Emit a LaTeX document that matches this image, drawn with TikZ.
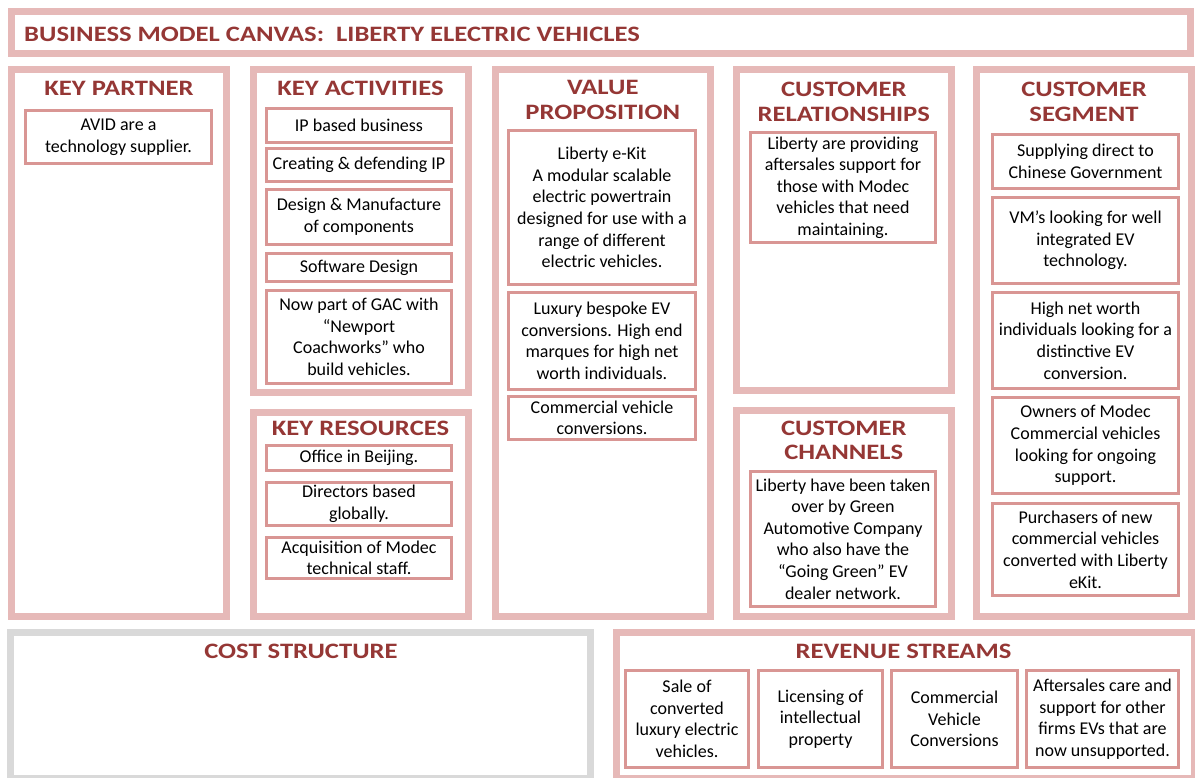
\documentclass[tikz,border=0pt]{standalone}
\usepackage{fontspec}
\setmainfont{Carlito}
\newfontfamily\headface[FakeStretch=1.21]{Carlito}
\usetikzlibrary{positioning}

\definecolor{framepink}{HTML}{E6B9B8}
\definecolor{cardpink}{HTML}{D99694}
\definecolor{headred}{HTML}{953735}
\definecolor{costgray}{HTML}{D9D9D9}

\newcommand{\bodyfont}{\fontsize{18}{21.6}\selectfont}
\newcommand{\headfont}{\headface\fontsize{22}{24.5}\selectfont\bfseries}

\begin{document}
\begin{tikzpicture}[x=1pt, y=-1pt,
  bmcframe/.style={draw=framepink, line width=7pt, inner sep=0pt},
  costframe/.style={bmcframe, draw=costgray},
  infocard/.style={draw=cardpink, line width=3pt, inner sep=0pt, align=center, font=\bodyfont, fill=white},
  blocktitle/.style={text=headred, font=\headfont, align=center, inner sep=0pt},
  kpcard/.style={infocard, minimum width=186},
  kacard/.style={infocard, minimum width=185},
  vpcard/.style={infocard, minimum width=187},
  crcard/.style={infocard, minimum width=185},
  cscard/.style={infocard, minimum width=186},
  rscard/.style={infocard, minimum height=97},
]
\fill[white] (0,0) rectangle (1195,778);
\useasboundingbox (0,0) rectangle (1195,778);

% banner
\node[bmcframe, minimum width=1179, minimum height=42] (banner) at (601,32.5) {};
\node[blocktitle, anchor=west] (bannertext) at (24,34)
  {BUSINESS MODEL CANVAS:\ \ LIBERTY ELECTRIC VEHICLES};

% column frames
\node[bmcframe, minimum width=215, minimum height=546.5] (kp) at (119,343.25) {};
\node[bmcframe, minimum width=215, minimum height=322] (ka) at (361,231) {};
\node[bmcframe, minimum width=215, minimum height=204.5] (kr) at (361,514.25) {};
\node[bmcframe, minimum width=214.5, minimum height=546.5] (vp) at (602.75,343.25) {};
\node[bmcframe, minimum width=214.5, minimum height=320.5] (cr) at (843.75,230.25) {};
\node[bmcframe, minimum width=214.5, minimum height=206.5] (cc) at (843.75,513.25) {};
\node[bmcframe, minimum width=215, minimum height=546.5] (cs) at (1084,343.25) {};
\node[costframe, minimum width=580, minimum height=146.5] (cost) at (300,705.25) {};
\node[bmcframe, minimum width=577.5, minimum height=146.5] (rev) at (905.25,705.25) {};

% block titles
\node[blocktitle] (kptitle) at (119,88) {KEY PARTNER};
\node[blocktitle] (katitle) at (360.5,88) {KEY ACTIVITIES};
\node[blocktitle] (krtitle) at (360.5,428) {KEY RESOURCES};
\node[blocktitle] (vptitle) at (602.75,100) {VALUE\\PROPOSITION};
\node[blocktitle] (crtitle) at (843.75,102) {CUSTOMER\\RELATIONSHIPS};
\node[blocktitle] (cctitle) at (843.75,440.5) {CUSTOMER\\CHANNELS};
\node[blocktitle] (cstitle) at (1084,102) {CUSTOMER\\SEGMENT};
\node[blocktitle] (costtitle) at (301,651) {COST STRUCTURE};
\node[blocktitle] (rstitle) at (903.5,651) {REVENUE STREAMS};

% key partner
\node[kpcard, minimum height=53] (kp1) at (118.5,137) {AVID are a\\technology supplier.};

% key activities
\node[kacard, minimum height=34] (ka1) at (359,125.5) {IP based business};
\node[kacard, minimum height=33] (ka2) at (359,165) {Creating \& defending IP};
\node[kacard, minimum height=55] (ka3) at (359,217) {Design \& Manufacture\\of components};
\node[kacard, minimum height=28] (ka4) at (359,267.5) {Software Design};
\node[kacard, minimum height=93] (ka5) at (359,337) {Now part of GAC with\\“Newport\\Coachworks” who\\build vehicles.};

% key resources
\node[kacard, minimum height=25] (kr1) at (359,458) {Office in Beijing.};
\node[kacard, minimum height=43] (kr2) at (359,504) {Directors based\\globally.};
\node[kacard, minimum height=41] (kr3) at (359,558) {Acquisition of Modec\\technical staff.};

% value proposition
\node[vpcard, minimum height=154] (vp1) at (602,207.5) {Liberty e-Kit\\A modular scalable\\electric powertrain\\designed for use with a\\range of different\\electric vehicles.};
\node[vpcard, minimum height=97] (vp2) at (602,341) {Luxury bespoke EV\\conversions. High end\\marques for high net\\worth individuals.};
\node[vpcard, minimum height=43] (vp3) at (602,418) {Commercial vehicle\\conversions.};

% customer relationships / channels
\node[crcard, minimum height=110] (cr1) at (843,187.5) {Liberty are providing\\aftersales support for\\those with Modec\\vehicles that need\\maintaining.};
\node[crcard, minimum height=135] (cc1) at (843,539) {Liberty have been taken\\over by Green\\Automotive Company\\who also have the\\“Going Green” EV\\dealer network.};

% customer segment
\node[cscard, minimum height=54] (cs1) at (1085.5,161.5) {Supplying direct to\\Chinese Government};
\node[cscard, minimum height=86] (cs2) at (1085.5,240.5) {VM’s looking for well\\integrated EV\\technology.};
\node[cscard, minimum height=96] (cs3) at (1085.5,340.5) {High net worth\\individuals looking for a\\distinctive EV\\conversion.};
\node[cscard, minimum height=96] (cs4) at (1085.5,445.5) {Owners of Modec\\Commercial vehicles\\looking for ongoing\\support.};
\node[cscard, minimum height=92] (cs5) at (1085.5,549.5) {Purchasers of new\\commercial vehicles\\converted with Liberty\\eKit.};

% revenue streams
\node[rscard, minimum width=123] (rs1) at (687,719) {Sale of\\converted\\luxury electric\\vehicles.};
\node[rscard, minimum width=124] (rs2) at (820.5,719) {Licensing of\\intellectual\\property};
\node[rscard, minimum width=126] (rs3) at (954.5,719) {Commercial\\Vehicle\\Conversions};
\node[rscard, minimum width=152] (rs4) at (1102.5,719) {Aftersales care and\\support for other\\firms EVs that are\\now unsupported.};

\end{tikzpicture}
\end{document}
